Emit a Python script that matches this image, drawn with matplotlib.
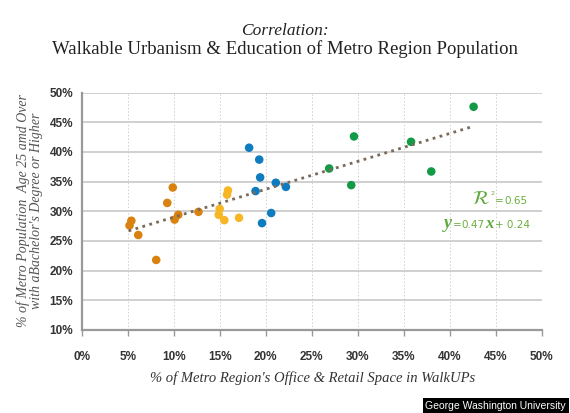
import matplotlib
matplotlib.use("Agg")
import matplotlib.pyplot as plt
import numpy as np

# Data (% values)
orange_x = [5.2, 5.4, 6.15, 8.1, 9.3, 9.9, 10.1, 10.5, 12.7]
orange_y = [27.6, 28.4, 26.0, 21.8, 31.4, 34.0, 28.6, 29.4, 29.9]
yellow_x = [15.0, 14.9, 15.5, 15.8, 15.9, 17.1]
yellow_y = [30.4, 29.4, 28.5, 32.8, 33.5, 28.9]
blue_x = [18.2, 19.3, 19.4, 18.9, 19.6, 20.6, 21.1, 22.2]
blue_y = [40.7, 38.7, 35.7, 33.4, 28.0, 29.7, 34.8, 34.1]
green_x = [26.9, 29.6, 29.3, 35.8, 38.0, 42.6]
green_y = [37.2, 42.6, 34.4, 41.7, 36.7, 47.6]
trend_slope = 0.47
trend_intercept = 24.3
trend_range = [5.1, 42.3]
x_ticks = list(range(0, 51, 5))
y_ticks = list(range(10, 51, 5))

fig = plt.figure(figsize=(5.7, 4.13), dpi=100)
ax = fig.add_axes([0.1433, 0.201, 0.8070, 0.575])

ax.set_xlim(0, 50)
ax.set_ylim(10, 50)

for y in y_ticks:
    ax.axhline(y, color="#c8c8c8", lw=1.2, zorder=0)
for x in x_ticks[1:]:
    ax.axvline(x, color="#cfcfcf", lw=0.7, ls=(0, (1.5, 2)), zorder=0)

for xs, ys, c in [(orange_x, orange_y, "#D9820F"),
                  (yellow_x, yellow_y, "#F7B625"),
                  (blue_x, blue_y, "#0F7CBF"),
                  (green_x, green_y, "#139A47")]:
    ax.scatter(xs, ys, s=38, color=c, edgecolors="none", zorder=3)

tx = np.array(trend_range)
ax.plot(tx, trend_slope * tx + trend_intercept, color="#7a6a5a", lw=2.0,
        ls=(0, (1, 1.6)), zorder=4)

for s in ["top", "right"]:
    ax.spines[s].set_visible(False)
for s in ["left", "bottom"]:
    ax.spines[s].set_color("#999999")
    ax.spines[s].set_linewidth(1.6)

ax.set_xticks(x_ticks)
ax.set_xticklabels([f"{v}%" for v in x_ticks])
ax.set_yticks(y_ticks)
ax.set_yticklabels([f"{v}%" for v in y_ticks])
ax.tick_params(axis="x", length=4, width=1, color="#999999", pad=11,
               labelsize=8.5, labelcolor="#333333")
ax.tick_params(axis="y", length=0, pad=6, labelsize=8.5, labelcolor="#333333")
for lab in ax.get_xticklabels() + ax.get_yticklabels():
    lab.set_fontweight("bold")
    lab.set_family("Liberation Sans")

# Equation annotations: pieces placed one after another
fig.canvas.draw()
renderer = fig.canvas.get_renderer()


def place_run(x_px, y_px, pieces):
    cur = x_px
    for txt, dy, gap, kw in pieces:
        t = fig.text(cur / 570, 1 - (y_px + dy) / 413, txt, ha="left",
                     va="baseline", **kw)
        bb = t.get_window_extent(renderer=renderer)
        cur += bb.width + gap


big = dict(color="#5FA83A", fontstyle="italic", fontweight="bold",
           family="Liberation Serif")
small = dict(color="#6AAE3E", fontsize=7.5, family="DejaVu Sans")
place_run(472, 204, [(r"$\mathcal{R}$", 0, 0.5, dict(color="#5FA83A", fontsize=14)),
                     ("2", -9, 0.5, dict(color="#6AAE3E", fontsize=4.5)),
                     ("=", 0, 1, dict(small)), ("0.65", 0, 0, dict(small))])
place_run(444, 228, [("y", 0, 0.5, dict(big, fontsize=13)), ("=", 0, 0.5, dict(small)),
                     ("0.47", 0, 0.5, dict(small)), ("x", 0, 1, dict(big, fontsize=12)),
                     ("+ 0.24", 0, 0, dict(small))])

fig.text(0.5, 0.925, "Correlation:", ha="center", va="center", fontsize=12.5,
         fontstyle="italic", family="Liberation Serif", color="#222222")
fig.text(0.5, 0.882, "Walkable Urbanism & Education of Metro Region Population",
         ha="center", va="center", fontsize=13.5, family="Liberation Serif",
         color="#222222")

fig.text(0.548, 0.085, "% of Metro Region's Office & Retail Space in WalkUPs",
         ha="center", va="center", fontsize=10.5, fontstyle="italic",
         family="Liberation Serif", color="#333333")
fig.text(0.052, 0.49, "% of Metro Population  Age 25 amd Over\nwith aBachelor's Degree or Higher",
         ha="center", va="center", rotation=90, fontsize=10, fontstyle="italic",
         family="Liberation Serif", color="#555555", linespacing=1.05)

fig.text(0.993, 0.017, "George Washington University", ha="right", va="center",
         fontsize=7.5, color="white", family="Liberation Sans",
         bbox=dict(boxstyle="square,pad=0.25", facecolor="black", edgecolor="none"))

fig.savefig("out.png", dpi=100)
